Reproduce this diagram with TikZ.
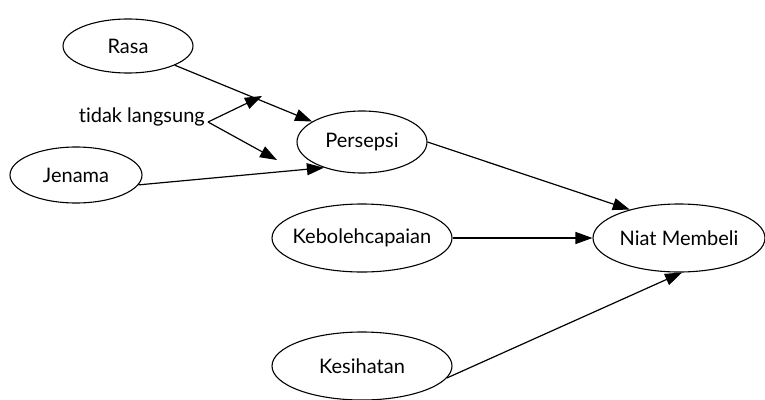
\documentclass[tikz,border=0pt]{standalone}
\usepackage{fontspec}
\setmainfont{Lato}[Ligatures=NoCommon]
\usetikzlibrary{shapes.geometric,arrows.meta}
\tikzset{
  lbl/.style={font=\fontsize{20}{22}\selectfont},
  ell/.style={draw, ellipse, line width=1.1pt, inner sep=0pt, lbl},
  conn/.style={line width=1.2pt, -{Triangle[length=17pt,width=12pt]}},
}
\newcommand{\ztxt}[1]{\makebox[0pt]{#1}}
\begin{document}
\begin{tikzpicture}[x=1pt,y=-1pt]
\useasboundingbox (0,0) rectangle (765,399);
\node[ell, minimum width=130pt, minimum height=54pt] (rasa) at (128,46) {\ztxt{Rasa}};
\node[ell, minimum width=132pt, minimum height=56pt] (jen) at (76,175) {\ztxt{Jenama}};
\node[ell, minimum width=130pt, minimum height=62pt] (per) at (362,142) {\ztxt{Persepsi}};
\node[ell, minimum width=180pt, minimum height=68pt] (keb) at (362,238) {\ztxt{Kebolehcapaian}};
\node[ell, minimum width=172pt, minimum height=68pt] (niat) at (679,238) {\ztxt{Niat Membeli}};
\node[ell, minimum width=180pt, minimum height=68pt] (kes) at (362,366) {\ztxt{Kesihatan}};
\node[anchor=east, inner sep=0pt, lbl] (tl) at (205,117) {tidak langsung};
\coordinate (split) at (208,122);
\coordinate (t1) at (262,96);
\coordinate (t2) at (277,160);
\draw[conn] (rasa) -- (per);
\draw[conn] (jen.-9) -- (per.-146);
\draw[conn] (per.0) -- (niat.150);
\draw[conn] (keb.east) -- (niat.west);
\draw[conn] (kes.-8) -- (niat.-85);
\draw[conn] (split) -- (t1);
\draw[conn] (split) -- (t2);
\end{tikzpicture}
\end{document}
